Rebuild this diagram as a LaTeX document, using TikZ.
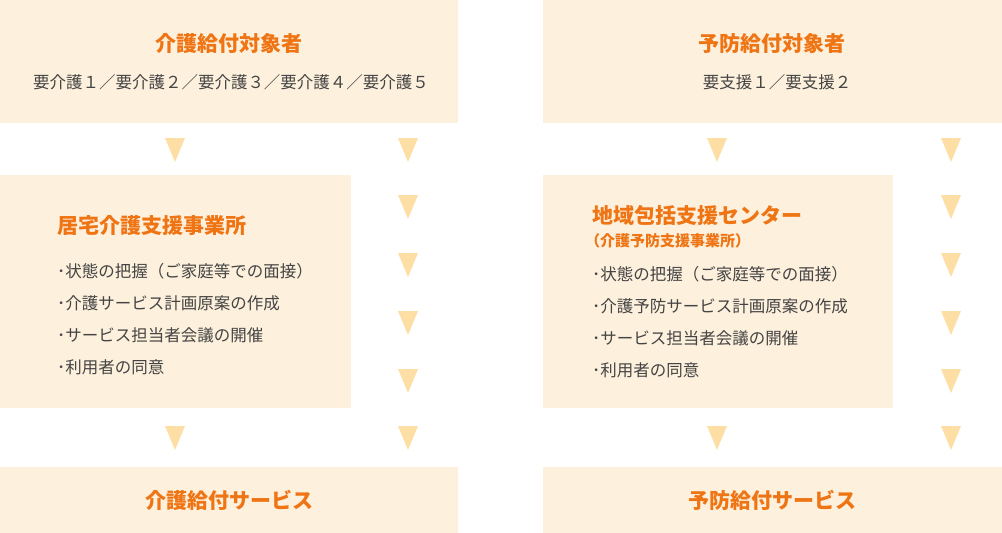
\documentclass[tikz,border=0pt]{standalone}
\usepackage{fontspec}
\setmainfont{Noto Sans CJK JP}
\begin{document}
\begin{tikzpicture}[x=1pt,y=-1pt,
  box/.style={fill=boxc,draw=none,inner sep=0pt},
  ttl/.style={text=ttlc,font=\fontsize{21}{23}\selectfont\bfseries,inner sep=0pt},
  txt/.style={text=txtc,font=\fontsize{16.5}{19}\selectfont,inner sep=0pt,anchor=west},
  tri/.style={fill=tric,draw=none}]
\definecolor{boxc}{HTML}{FDF0DC}
\definecolor{tric}{HTML}{FDDFA5}
\definecolor{ttlc}{HTML}{EF7414}
\definecolor{txtc}{HTML}{444444}
\useasboundingbox (0,0) rectangle (1002,533);
\fill[box] (0,0) rectangle (458,123);
\fill[box] (543,0) rectangle (1002,123);
\fill[box] (0,175) rectangle (351,408);
\fill[box] (543,175) rectangle (893,408);
\fill[box] (0,467) rectangle (458,533);
\fill[box] (543,467) rectangle (1002,533);
\node[ttl] (t1) at (229,44) {介護給付対象者};
\node[txt,anchor=center] (s1) at (231,82) {要介護１／要介護２／要介護３／要介護４／要介護５};
\node[ttl] (t2) at (772,44) {予防給付対象者};
\node[txt,anchor=center] (s2) at (777,82) {要支援１／要支援２};
\node[ttl,anchor=west] (t3) at (57,226) {居宅介護支援事業所};
\node[txt] (a1) at (57,271) {･状態の把握（ご家庭等での面接）};
\node[txt] (a2) at (57,303) {･介護サービス計画原案の作成};
\node[txt] (a3) at (57,335) {･サービス担当者会議の開催};
\node[txt] (a4) at (57,367) {･利用者の同意};
\node[ttl,anchor=west] (t4) at (592,215) {地域包括支援センター};
\node[ttl,anchor=west,font=\fontsize{15}{17}\selectfont\bfseries] (t5) at (585,241) {（介護予防支援事業所）};
\node[txt] (b1) at (592,274) {･状態の把握（ご家庭等での面接）};
\node[txt] (b2) at (592,306) {･介護予防サービス計画原案の作成};
\node[txt] (b3) at (592,338) {･サービス担当者会議の開催};
\node[txt] (b4) at (592,370) {･利用者の同意};
\node[ttl] (t6) at (229,500) {介護給付サービス};
\node[ttl] (t7) at (772,500) {予防給付サービス};
\foreach \x/\y in {175/150,175/438,408/150,408/207,408/265,408/323,408/381,408/438,717/150,717/438,951/150,951/207,951/265,951/323,951/381,951/438}
  \fill[tri] (\x-10,\y-12) -- (\x+10,\y-12) -- (\x,\y+12) -- cycle;
\end{tikzpicture}
\end{document}
